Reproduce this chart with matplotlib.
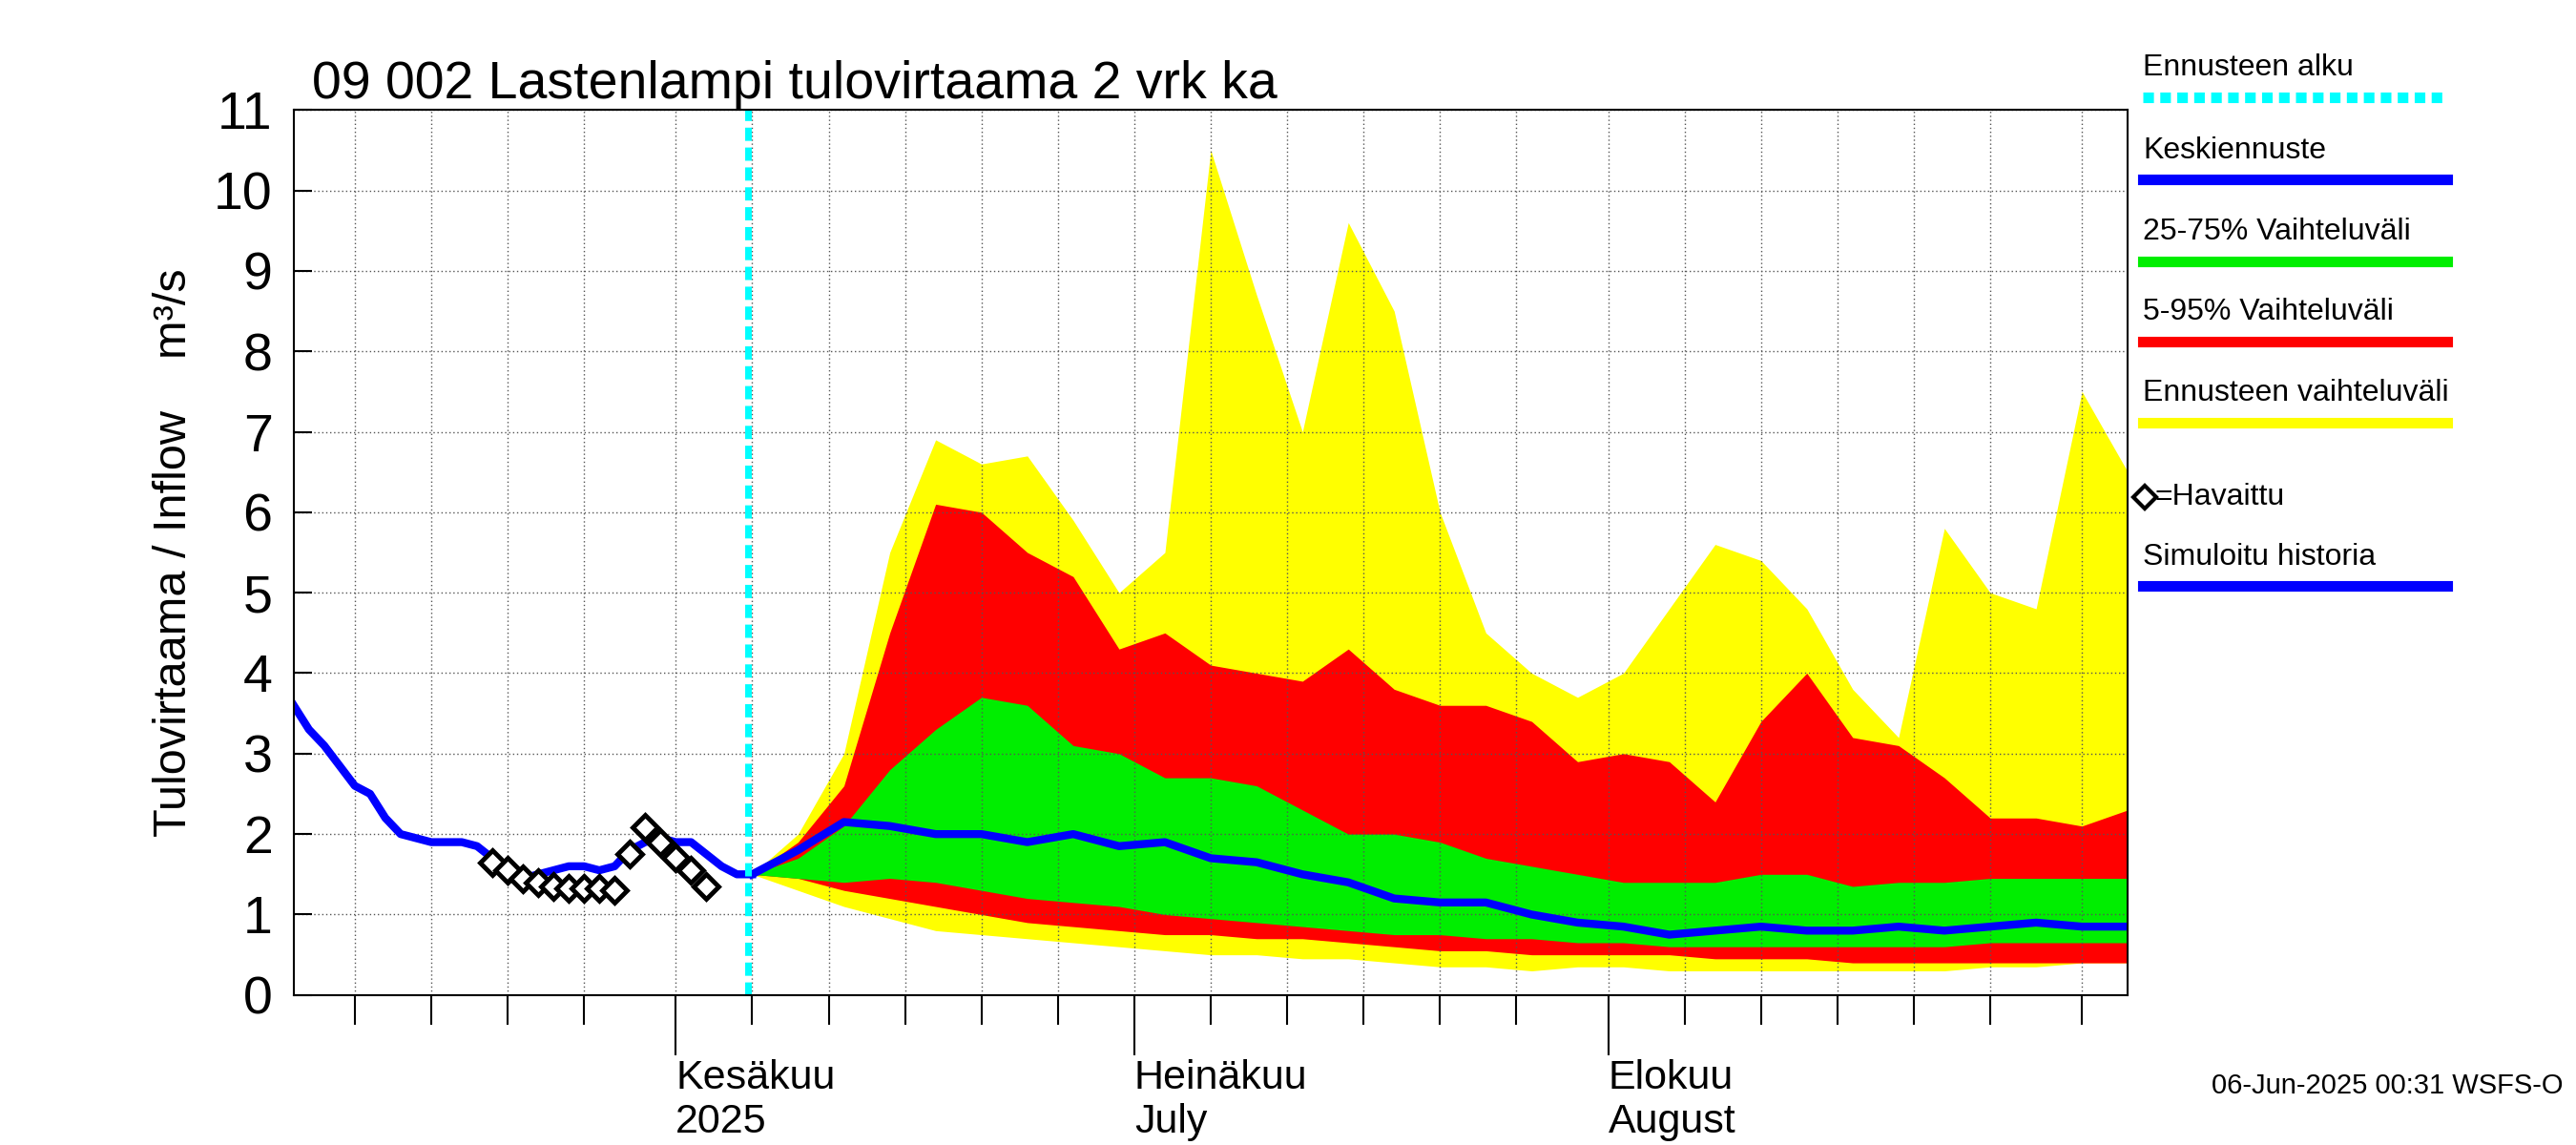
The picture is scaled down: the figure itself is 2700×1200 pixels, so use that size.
import matplotlib
matplotlib.use("Agg")
import matplotlib.pyplot as plt
import matplotlib.dates as mdates
import pandas as pd

plt.rcParams["font.family"] = "Liberation Sans"

start = pd.Timestamp("2025-05-07")

# simulated history, one value per day from start
hist_days = list(range(0, 31))
hist_vals = [3.6, 3.3, 3.1, 2.85, 2.6, 2.5, 2.2, 2.0, 1.95, 1.9, 1.9, 1.9, 1.85, 1.7, 1.55,
             1.45, 1.5, 1.55, 1.6, 1.6, 1.55, 1.6, 1.8, 1.9, 1.95, 1.9, 1.9, 1.75, 1.6, 1.5, 1.5]

# observed
obs_days = list(range(13, 28))
obs_vals = [1.65, 1.55, 1.45, 1.4, 1.35, 1.33, 1.33, 1.33, 1.3, 1.75, 2.08, 1.9, 1.7, 1.55, 1.35]

# forecast, every 3 days from day 30
fc_days = list(range(30, 121, 3))
fc_max = [1.5, 2.0, 3.0, 5.5, 6.9, 6.6, 6.7, 5.9, 5.0, 5.5, 10.5, 8.7, 7.0, 9.6, 8.5, 6.0,
          4.5, 4.0, 3.7, 4.0, 4.8, 5.6, 5.4, 4.8, 3.8, 3.2, 5.8, 5.0, 4.8, 7.5, 6.5]
fc_min = [1.5, 1.3, 1.1, 0.95, 0.8, 0.75, 0.7, 0.65, 0.6, 0.55, 0.5, 0.5, 0.45, 0.45, 0.4, 0.35,
          0.35, 0.3, 0.35, 0.35, 0.3, 0.3, 0.3, 0.3, 0.3, 0.3, 0.3, 0.35, 0.35, 0.4, 0.4]
p95 = [1.5, 1.9, 2.6, 4.5, 6.1, 6.0, 5.5, 5.2, 4.3, 4.5, 4.1, 4.0, 3.9, 4.3, 3.8, 3.6,
       3.6, 3.4, 2.9, 3.0, 2.9, 2.4, 3.4, 4.0, 3.2, 3.1, 2.7, 2.2, 2.2, 2.1, 2.3]
p05 = [1.5, 1.45, 1.3, 1.2, 1.1, 1.0, 0.9, 0.85, 0.8, 0.75, 0.75, 0.7, 0.7, 0.65, 0.6, 0.55,
       0.55, 0.5, 0.5, 0.5, 0.5, 0.45, 0.45, 0.45, 0.4, 0.4, 0.4, 0.4, 0.4, 0.4, 0.4]
p75 = [1.5, 1.7, 2.1, 2.8, 3.3, 3.7, 3.6, 3.1, 3.0, 2.7, 2.7, 2.6, 2.3, 2.0, 2.0, 1.9,
       1.7, 1.6, 1.5, 1.4, 1.4, 1.4, 1.5, 1.5, 1.35, 1.4, 1.4, 1.45, 1.45, 1.45, 1.45]
p25 = [1.5, 1.45, 1.4, 1.45, 1.4, 1.3, 1.2, 1.15, 1.1, 1.0, 0.95, 0.9, 0.85, 0.8, 0.75, 0.75,
       0.7, 0.7, 0.65, 0.65, 0.6, 0.6, 0.6, 0.6, 0.6, 0.6, 0.6, 0.65, 0.65, 0.65, 0.65]
median = [1.5, 1.8, 2.15, 2.1, 2.0, 2.0, 1.9, 2.0, 1.85, 1.9, 1.7, 1.65, 1.5, 1.4, 1.2, 1.15,
          1.15, 1.0, 0.9, 0.85, 0.75, 0.8, 0.85, 0.8, 0.8, 0.85, 0.8, 0.85, 0.9, 0.85, 0.85]

fc_start = pd.Timestamp("2025-06-05 18:00")
month_ticks = ["2025-06-01", "2025-07-01", "2025-08-01"]
month_labels = ["Kesäkuu\n2025", "Heinäkuu\nJuly", "Elokuu\nAugust"]

d = lambda days: [start + pd.Timedelta(days=x) for x in days]

fig = plt.figure(figsize=(27, 12), dpi=100)
ax = fig.add_axes([0.114, 0.131, 0.712, 0.773])

fx = d(fc_days)
ax.fill_between(fx, fc_min, fc_max, color="yellow", lw=0)
ax.fill_between(fx, p05, p95, color="red", lw=0)
ax.fill_between(fx, p25, p75, color="#00ee00", lw=0)
ax.plot(d(hist_days), hist_vals, color="blue", lw=6)
ax.plot(fx, median, color="blue", lw=6)
ax.plot(d(obs_days), obs_vals, ls="none", marker="D", ms=13, mfc="white", mec="black", mew=3.5)
ax.axvline(fc_start, color="cyan", lw=5, ls=(0, (2, 1)))

ax.set_xlim(start, start + pd.Timedelta(days=120))
ax.set_ylim(0, 11)
ax.set_yticks(range(0, 12))
ax.tick_params(axis="y", labelsize=40, direction="in", length=14, width=1.5, pad=16)
ax.xaxis.set_minor_locator(mdates.DayLocator(bymonthday=[1, 6, 11, 16, 21, 26]))
ax.set_xticks([pd.Timestamp(t) for t in month_ticks])
ax.set_xticklabels(month_labels, ha="left", fontsize=31)
ax.tick_params(axis="x", which="major", length=45, width=1.5)
ax.tick_params(axis="x", which="minor", length=22, width=1.5)
ax.grid(True, which="both", color="#555555", ls=(0, (1, 2)), lw=1)
for s in ax.spines.values():
    s.set_linewidth(1.5)
ax.set_ylabel("Tulovirtaama / Inflow    m³/s", fontsize=35, labelpad=14)
ax.set_title("09 002 Lastenlampi tulovirtaama 2 vrk ka", fontsize=40, loc="left", x=0.01, pad=6)

# legend on the right
lx0, lx1 = 0.832, 0.95
items = [("Ennusteen alku", "cyan", "dash", 0.915),
         ("Keskiennuste", "blue", "line", 0.843),
         ("25-75% Vaihteluväli", "#00ee00", "line", 0.772),
         ("5-95% Vaihteluväli", "red", "line", 0.702),
         ("Ennusteen vaihteluväli", "yellow", "line", 0.631),
         ("Simuloitu historia", "blue", "line", 0.488)]
for text, col, kind, yy in items:
    fig.text(lx0, yy + 0.013, text, fontsize=23, va="bottom")
    fig.add_artist(plt.Line2D([lx0, lx1], [yy, yy], color=col, lw=8,
                              ls=(0, (1, 0.6)) if kind == "dash" else "-"))
fig.text(0.8365, 0.566, "=Havaittu", fontsize=23, va="center")
fig.add_artist(plt.Line2D([0.8325], [0.566], marker="D", ms=12, mfc="white", mec="black", mew=3))
fig.text(0.995, 0.045, "06-Jun-2025 00:31 WSFS-O", fontsize=21, ha="right")

fig.savefig("out.png")
